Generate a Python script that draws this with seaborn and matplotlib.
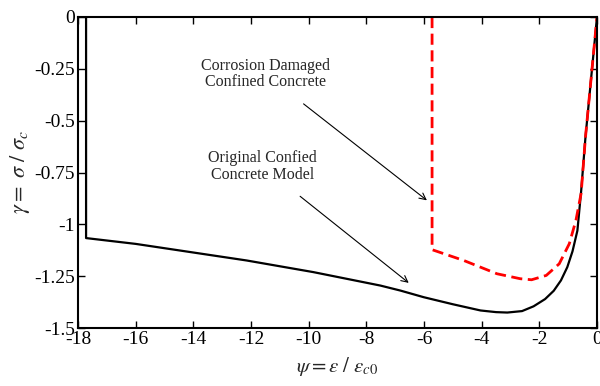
import pandas as pd
import matplotlib
matplotlib.use('Agg')
import matplotlib.pyplot as plt
import seaborn as sns

# Values
orig_psi = [-17.72, -17.72, -16.0, -14.46, -12.15, -9.84, -7.51, -6.82, -6.01, -5.0,
            -4.04, -3.5, -3.11, -2.6, -2.2, -1.8, -1.5, -1.25, -1.03, -0.85, -0.68,
            -0.55, -0.4, -0.2, 0.0]
orig_gamma = [0.0, -1.066, -1.094, -1.126, -1.174, -1.230, -1.295, -1.319, -1.351, -1.385,
              -1.415, -1.423, -1.425, -1.418, -1.395, -1.36, -1.32, -1.27, -1.206, -1.13,
              -1.03, -0.84, -0.58, -0.29, 0.0]

dmg_psi = [-5.72, -5.72, -4.62, -3.47, -2.66, -2.27, -1.76, -1.31, -0.96, -0.73,
           -0.55, -0.4, -0.2, 0.0]
dmg_gamma = [0.0, -1.122, -1.174, -1.238, -1.262, -1.267, -1.246, -1.19, -1.093, -0.98,
             -0.85, -0.58, -0.29, 0.0]

x_ticks = [-18, -16, -14, -12, -10, -8, -6, -4, -2, 0]
y_ticks = [0, -0.25, -0.5, -0.75, -1, -1.25, -1.5]
y_ticklabels = ['0', '-0.25', '-0.5', '-0.75', '-1', '-1.25', '-1.5']

orig = pd.DataFrame({'psi': orig_psi, 'gamma': orig_gamma})
dmg = pd.DataFrame({'psi': dmg_psi, 'gamma': dmg_gamma})

sns.set_style('ticks')
plt.rcParams['font.family'] = ['Liberation Serif', 'DejaVu Serif']
plt.rcParams['mathtext.fontset'] = 'stix'

fig, ax = plt.subplots(figsize=(6.0, 3.86), dpi=100)
fig.subplots_adjust(left=0.13, right=0.995, top=0.956, bottom=0.15)

sns.lineplot(data=orig, x='psi', y='gamma', sort=False, estimator=None,
             color='black', lw=1.6, ax=ax)
sns.lineplot(data=dmg, x='psi', y='gamma', sort=False, estimator=None,
             color='#ff0000', lw=2.0, ax=ax, linestyle=(0, (4, 2)))

ax.set_xlim(-18, 0)
ax.set_ylim(-1.5, 0)
ax.set_xticks(x_ticks)
ax.set_xticklabels([str(t) for t in x_ticks])
ax.set_yticks(y_ticks)
ax.set_yticklabels(y_ticklabels)
ax.tick_params(direction='in', length=5, width=1, top=True, right=True,
               labelsize=14, pad=2, colors='black')
for s in ax.spines.values():
    s.set_visible(True)
    s.set_linewidth(1.5)
    s.set_color('black')

ax.set_xlabel(r'$\psi = \varepsilon\ /\ \varepsilon_{c0}$', fontsize=15, labelpad=5)
ax.set_ylabel(r'$\gamma = \ \sigma\ /\ \sigma_c$', fontsize=16, labelpad=2)

ax.annotate('Corrosion Damaged\nConfined Concrete', xy=(-5.9, -0.884), xytext=(-11.5, -0.275),
            ha='center', va='center', fontsize=11.5, linespacing=1.05,
            arrowprops=dict(arrowstyle='->', color='black', lw=0.8,
                            shrinkA=12, shrinkB=0))
ax.annotate('Original Confied\nConcrete Model', xy=(-6.53, -1.282), xytext=(-11.6, -0.72),
            ha='center', va='center', fontsize=11.5, linespacing=1.05,
            arrowprops=dict(arrowstyle='->', color='black', lw=0.8,
                            shrinkA=12, shrinkB=0))

fig.savefig('out.png', dpi=100)
